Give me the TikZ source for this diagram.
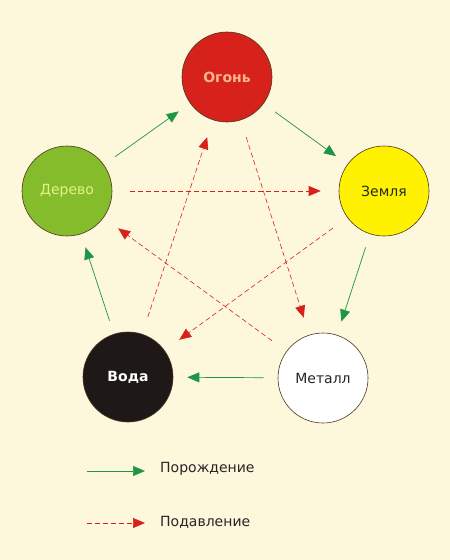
\documentclass[tikz,border=0pt]{standalone}
\usepackage{fontspec}
\setmainfont{DejaVu Sans}
\usetikzlibrary{arrows.meta}
\definecolor{bg}{HTML}{FDF7DC}
\definecolor{firered}{HTML}{D7221C}
\definecolor{firetext}{HTML}{F8B78C}
\definecolor{woodgreen}{HTML}{84BC2B}
\definecolor{woodtext}{HTML}{E4F28C}
\definecolor{earthyellow}{HTML}{FFF200}
\definecolor{waterblack}{HTML}{1E1918}
\definecolor{rimcolor}{HTML}{4A3420}
\definecolor{gencolor}{HTML}{1E9646}
\definecolor{supcolor}{HTML}{D7221C}
\tikzset{basic/.style={draw=rimcolor,line width=0.6pt,circle,
                       minimum size=90pt,inner sep=0pt,
                       font=\fontsize{14}{16}\selectfont}}
\tikzset{boldtext/.style={font=\fontsize{14}{16}\selectfont\bfseries}}
\tikzset{generation/.style={draw=gencolor,line width=0.7pt,
                       -{Triangle[length=12pt,width=10pt]},
                       shorten <=14pt,shorten >=14pt}}
\tikzset{suppression/.style={draw=supcolor,line width=0.6pt,
                       dash pattern=on 5pt off 3pt,
                       -{Triangle[length=12pt,width=10pt]},
                       shorten <=18pt,shorten >=18pt}}
\tikzset{legendtext/.style={anchor=west,inner sep=0pt,
                       font=\fontsize{14}{16}\selectfont,text=black!85}}
\begin{document}
\begin{tikzpicture}[x=1pt,y=-1pt]
    % Background
    \fill[bg] (0,0) rectangle (450,560);
    % Draw element nodes
    \node[basic,boldtext,fill=firered,text=firetext] (fire) at (227,77) {Огонь};
    \node[basic,fill=woodgreen,text=woodtext] (wood) at (67,191) {Дерево};
    \node[basic,fill=earthyellow,text=black!85] (earth) at (384,191) {Земля};
    \node[basic,boldtext,fill=waterblack,text=white] (water) at (128,377) {Вода};
    \node[basic,fill=white,text=black!85] (metal) at (323,378) {Металл};
    % Draw generation cycle
    \foreach \a/\b in {wood/fire,fire/earth,earth/metal,metal/water,water/wood}{%
          \draw[generation] (\a) -- (\b);
        }
    % Draw suppression star
    \foreach \a/\b in {wood/earth,fire/metal,earth/water,metal/wood,water/fire}{%
          \draw[suppression] (\a) -- (\b);
        }
    % Legend
    \coordinate (gstart) at (87,471);
    \coordinate (gend) at (145,471);
    \node[legendtext] (glabel) at (160,469) {Порождение};
    \draw[generation,shorten <=0pt,shorten >=0pt] (gstart) -- (gend);
    \coordinate (sstart) at (87,523);
    \coordinate (send) at (145,523);
    \node[legendtext] (slabel) at (160,522) {Подавление};
    \draw[suppression,shorten <=0pt,shorten >=0pt] (sstart) -- (send);
\end{tikzpicture}
\end{document}
